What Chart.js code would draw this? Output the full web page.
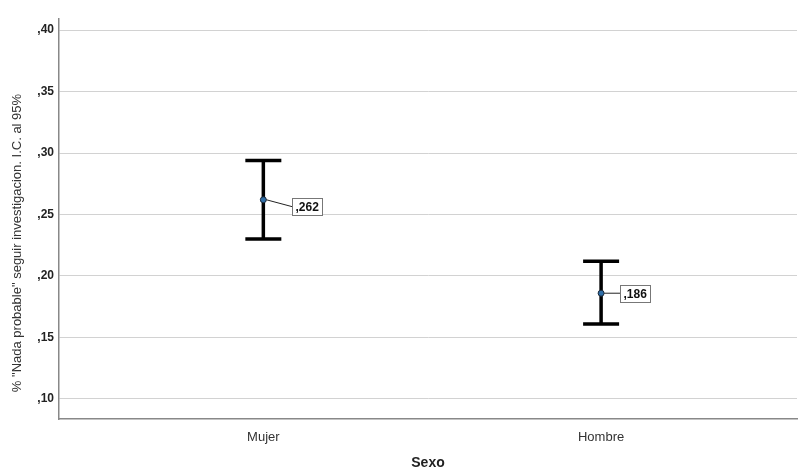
<!DOCTYPE html>
<html>
<head>
<meta charset="utf-8">
<script src="https://cdn.jsdelivr.net/npm/chart.js@4.4.1/dist/chart.umd.min.js"></script>
<style>
    html, body { margin: 0; padding: 0; background: #fff; overflow: hidden; }
    #wrap { width: 798px; height: 472px; }
</style>
</head>
<body>
<div id="wrap"><canvas id="chart-ci"></canvas></div>
<script>
// data
const categories = ['Mujer', 'Hombre'];
const means = [0.262, 0.186];
const lowerCI = [0.230, 0.161];
const upperCI = [0.294, 0.212];
const yTicks = [0.10, 0.15, 0.20, 0.25, 0.30, 0.35, 0.40];
const yTitle = '% "Nada probable" seguir investigacion. I.C. al 95%';

const fmt = v => v.toFixed(3).replace(/^0\./, ',');
const fmtTick = v => v.toFixed(2).replace(/^0\./, ',');
const FONT = '"Liberation Sans", Arial, sans-serif';

// label box offsets from the point (px)
const labelOffsets = [{ dx: 29, dy: 7 }, { dx: 19, dy: 0 }];

const errorBars = {
    id: 'errorBars',
    beforeDatasetsDraw(chart) {
        const { ctx, scales: { x, y } } = chart;
        ctx.save();
        ctx.strokeStyle = '#000';
        ctx.lineWidth = 3.5;
        ctx.lineCap = 'butt';
        categories.forEach((c, i) => {
            const px = x.getPixelForValue(i);
            const top = y.getPixelForValue(upperCI[i]);
            const bot = y.getPixelForValue(lowerCI[i]);
            ctx.beginPath();
            ctx.moveTo(px, top);
            ctx.lineTo(px, bot);
            ctx.moveTo(px - 18, top);
            ctx.lineTo(px + 18, top);
            ctx.moveTo(px - 18, bot);
            ctx.lineTo(px + 18, bot);
            ctx.stroke();
        });
        ctx.restore();
    },
    afterDatasetsDraw(chart) {
        const { ctx, scales: { x, y } } = chart;
        ctx.save();
        ctx.font = 'bold 12px ' + FONT;
        ctx.textBaseline = 'middle';
        categories.forEach((c, i) => {
            const px = x.getPixelForValue(i);
            const py = y.getPixelForValue(means[i]);
            const off = labelOffsets[i];
            const txt = fmt(means[i]);
            const w = Math.round(ctx.measureText(txt).width) + 7;
            const h = 17;
            const bx = Math.round(px + off.dx) + 0.5;
            const by = Math.round(py + off.dy - h / 2) + 0.5;
            // leader line
            ctx.strokeStyle = '#222';
            ctx.lineWidth = 1;
            ctx.beginPath();
            ctx.moveTo(px + 3, py);
            ctx.lineTo(bx, py + off.dy);
            ctx.stroke();
            ctx.fillStyle = '#fff';
            ctx.fillRect(bx, by, w, h);
            ctx.strokeStyle = '#777';
            ctx.strokeRect(bx, by, w, h);
            ctx.fillStyle = '#111';
            ctx.fillText(txt, bx + 3, by + h / 2 + 0.5);
        });
        ctx.restore();
    },
    afterDraw(chart) {
        // y title sits lower than the axis centre in the original
        const { ctx } = chart;
        ctx.save();
        ctx.translate(17, 243);
        ctx.rotate(-Math.PI / 2);
        ctx.font = '13px ' + FONT;
        ctx.fillStyle = '#333';
        ctx.textAlign = 'center';
        ctx.textBaseline = 'middle';
        ctx.fillText(yTitle, 0, 0);
        ctx.restore();
    }
};

new Chart(document.getElementById('chart-ci'), {
    type: 'scatter',
    data: {
        datasets: [{
            data: means.map((m, i) => ({ x: i, y: m })),
            pointRadius: 3,
            pointHoverRadius: 3,
            backgroundColor: '#2f6ea8',
            borderColor: '#1b2a3a',
            borderWidth: 1
        }]
    },
    options: {
        responsive: true,
        maintainAspectRatio: false,
        animation: false,
        layout: { autoPadding: false, padding: { top: 19, right: 1, left: 0, bottom: 0 } },
        plugins: {
            legend: { display: false },
            tooltip: { enabled: false }
        },
        scales: {
            x: {
                type: 'linear',
                min: -0.605,
                max: 1.58,
                afterBuildTicks: axis => { axis.ticks = [{ value: 0 }, { value: 1 }]; },
                afterFit: axis => {
                    axis.height = 53;
                    axis.paddingLeft = 0;
                    axis.paddingRight = 0;
                },
                ticks: {
                    callback: v => categories[v],
                    color: '#333',
                    font: { family: FONT, size: 13 },
                    padding: 11,
                    maxRotation: 0
                },
                grid: { display: false, drawTicks: false },
                border: { color: '#888', width: 1.5 },
                title: {
                    display: true,
                    text: 'Sexo',
                    color: '#222',
                    font: { family: FONT, size: 14, weight: 'bold' },
                    padding: { top: 4, bottom: 0 }
                }
            },
            y: {
                min: 0.0837,
                max: 0.409,
                afterBuildTicks: axis => { axis.ticks = yTicks.map(v => ({ value: v })); },
                afterFit: axis => { axis.width = 59; },
                ticks: {
                    callback: v => fmtTick(v),
                    color: '#222',
                    font: { family: FONT, size: 12, weight: 'bold' },
                    padding: 5
                },
                grid: { color: '#d2d2d2', lineWidth: 1, drawTicks: false },
                border: { color: '#888', width: 1.5 }
            }
        }
    },
    plugins: [errorBars]
});
</script>
</body>
</html>
